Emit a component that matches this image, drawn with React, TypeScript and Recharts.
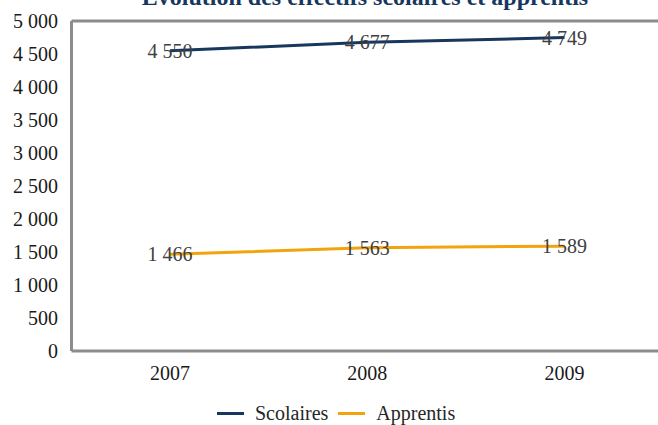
import React from 'react';
import {
  LineChart,
  Line,
  XAxis,
  YAxis,
  Legend,
  LabelList,
  ReferenceLine,
  Customized,
} from 'recharts';

const years = ['2007', '2008', '2009'];
const scolaires = [4550, 4677, 4749];
const apprentis = [1466, 1563, 1589];
const yTicks = [0, 500, 1000, 1500, 2000, 2500, 3000, 3500, 4000, 4500, 5000];
const seriesOrder = ['Scolaires', 'Apprentis'];

const chartData = years.map((year, i) => ({
  year,
  scolaires: scolaires[i],
  apprentis: apprentis[i],
}));

const FONT = "'Liberation Serif', serif";
const BLUE = '#17375E';
const ORANGE = '#F3A30D';
const GRAY = '#8C8C8C';

const fmt = (v: number) => String(v).replace(/\B(?=(\d{3})+(?!\d))/g, ' ');

const Title = () => (
  <text
    x={365}
    y={5}
    textAnchor="middle"
    fill={BLUE}
    fontFamily={FONT}
    fontWeight="bold"
    fontSize={24}
  >
    Évolution des effectifs scolaires et apprentis
  </text>
);

const LegendContent = ({ payload }: any) => {
  const items = [...(payload || [])].sort(
    (a: any, b: any) => seriesOrder.indexOf(a.value) - seriesOrder.indexOf(b.value)
  );
  return (
    <div style={{ display: 'flex', alignItems: 'center', fontFamily: FONT, fontSize: 20, lineHeight: '18px', color: '#262626' }}>
      {items.map((entry: any) => (
        <div key={entry.value} style={{ display: 'flex', alignItems: 'center', marginRight: 10 }}>
          <span style={{ display: 'inline-block', width: 27, height: 3, background: entry.color, marginRight: 11 }} />
          <span>{entry.value}</span>
        </div>
      ))}
    </div>
  );
};

export default function App() {
  return (
    <div style={{ position: 'absolute', left: 0, top: 0, width: 658, height: 425, overflow: 'hidden', background: '#fff' }}>
      <LineChart
        width={680}
        height={425}
        data={chartData}
        margin={{ top: 21, right: 17, left: 0, bottom: 0 }}
      >
        <Customized component={Title} />
        <XAxis
          dataKey="year"
          padding={{ left: 98.5, right: 98.5 }}
          axisLine={{ stroke: GRAY, strokeWidth: 3 }}
          tickLine={false}
          tickSize={0}
          tickMargin={15}
          height={56}
          tick={{ fill: '#1a1a1a', fontFamily: FONT, fontSize: 20 }}
        />
        <YAxis
          domain={[0, 5000]}
          ticks={yTicks}
          width={71.5}
          interval={0}
          axisLine={{ stroke: GRAY, strokeWidth: 3 }}
          tickLine={false}
          tickSize={0}
          tickMargin={13.5}
          tickFormatter={fmt}
          tick={{ fill: '#1a1a1a', fontFamily: FONT, fontSize: 20 }}
        />
        <ReferenceLine y={5000} stroke={GRAY} strokeWidth={3} />
        <Legend
          verticalAlign="bottom"
          content={<LegendContent />}
          wrapperStyle={{ left: 217, top: 404, bottom: 'auto', width: 'auto', height: 18 }}
        />
        <Line
          type="linear"
          dataKey="scolaires"
          name="Scolaires"
          stroke={BLUE}
          strokeWidth={3}
          dot={false}
          activeDot={false}
          isAnimationActive={false}
        >
          <LabelList dataKey="scolaires" position="center" formatter={fmt} fill="#404040" fontFamily={FONT} fontSize={20} />
        </Line>
        <Line
          type="linear"
          dataKey="apprentis"
          name="Apprentis"
          stroke={ORANGE}
          strokeWidth={3}
          dot={false}
          activeDot={false}
          isAnimationActive={false}
        >
          <LabelList dataKey="apprentis" position="center" formatter={fmt} fill="#404040" fontFamily={FONT} fontSize={20} />
        </Line>
      </LineChart>
    </div>
  );
}
